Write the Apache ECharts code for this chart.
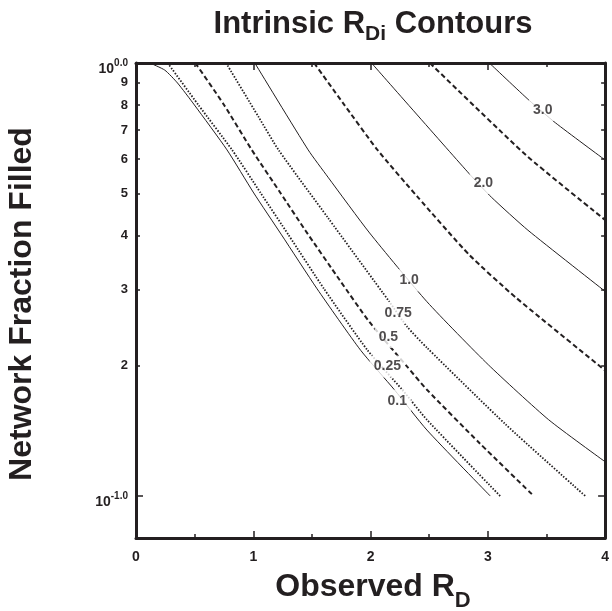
<!DOCTYPE html>
<html><head><meta charset="utf-8">
<script src="https://cdn.jsdelivr.net/npm/echarts@6/dist/echarts.min.js"></script>
<style>html,body{margin:0;padding:0;background:#fff}#c{width:612px;height:611px}</style>
</head><body><div id="c"></div>
<script>
// ---------- data ----------
const yTickFractions = [0.1, 0.2, 0.3, 0.4, 0.5, 0.6, 0.7, 0.8, 0.9, 1.0];
const yTickLabels = ['10^-1.0', '2', '3', '4', '5', '6', '7', '8', '9', '10^0.0'];
const yMajorFractions = [0.1, 1.0];
const yMin = 0.08, yMax = 1.0;

// contour RDi = 0.1 (solid)
const x010 = [0.118, 0.245, 0.354, 0.498, 0.776, 1.004, 1.241, 1.544, 1.916, 2.203, 2.481, 3.021];
const f010 = [1.0, 0.963, 0.899, 0.800, 0.630, 0.501, 0.401, 0.301, 0.217, 0.176, 0.142, 0.100];
// contour 0.25 (dotted)
const x025 = [0.270, 0.532, 0.819, 1.063, 1.300, 1.603, 1.975, 2.270, 2.481, 3.105];
const f025 = [1.0, 0.800, 0.630, 0.501, 0.401, 0.301, 0.217, 0.176, 0.150, 0.100];
// contour 0.5 (dashed)
const x050 = [0.506, 0.751, 0.987, 1.232, 1.443, 1.738, 1.992, 2.312, 2.481, 2.928, 3.392];
const f050 = [1.0, 0.800, 0.630, 0.501, 0.411, 0.315, 0.252, 0.199, 0.176, 0.1326, 0.100];
// contour 0.75 (dotted)
const x075 = [0.768, 1.046, 1.215, 1.637, 2.160, 2.312, 2.481, 3.156, 3.831];
const f075 = [1.0, 0.750, 0.630, 0.439, 0.281, 0.246, 0.220, 0.146, 0.100];
// contour 1.0 (solid)
const x100 = [1.013, 1.468, 1.637, 1.992, 2.481, 3.004, 3.519, 4.0];
const f100 = [1.0, 0.630, 0.545, 0.405, 0.281, 0.201, 0.150, 0.120];
// contour 1.5 (dashed)
const x150 = [1.519, 1.764, 2.059, 2.397, 2.844, 3.241, 4.0];
const f150 = [1.0, 0.809, 0.630, 0.492, 0.360, 0.287, 0.195];
// contour 2.0 (solid)
const x200 = [2.008, 2.844, 3.030, 3.342, 4.0];
const f200 = [1.0, 0.554, 0.490, 0.411, 0.297];
// contour 2.5 (dashed)
const x250 = [2.506, 3.325, 4.0];
const f250 = [1.0, 0.613, 0.434];
// contour 3.0 (solid)
const x300 = [3.013, 3.350, 3.578, 4.0];
const f300 = [1.0, 0.821, 0.727, 0.597];

// contour labels
const labelText = ['3.0', '2.0', '1.0', '0.75', '0.5', '0.25', '0.1'];
const labelX = [3.468, 2.962, 2.329, 2.236, 2.152, 2.143, 2.228];
const labelF = [0.779, 0.528, 0.315, 0.265, 0.233, 0.199, 0.166];

// ---------- rendering ----------
const FONT = "'Liberation Sans', Arial, Helvetica, sans-serif";
const INK = '#231f20';
const lg = v => Math.log10(v);

function lineStyleFor(kind) {
  if (kind === 'solid') return { color: INK, width: 1, type: 'solid' };
  if (kind === 'dashed') return { color: INK, width: 2, type: [5, 3] };
  return { color: INK, width: 1.8, type: [1.5, 1.6] };
}
function contour(name, xs, fs, kind) {
  return {
    type: 'line', name: name,
    data: xs.map((x, i) => [x, lg(fs[i])]),
    showSymbol: false, symbol: 'none', smooth: 0.2,
    lineStyle: lineStyleFor(kind), silent: true, z: 2, clip: true
  };
}
const series = [
  contour('0.1', x010, f010, 'solid'),
  contour('0.25', x025, f025, 'dotted'),
  contour('0.5', x050, f050, 'dashed'),
  contour('0.75', x075, f075, 'dotted'),
  contour('1.0', x100, f100, 'solid'),
  contour('1.5', x150, f150, 'dashed'),
  contour('2.0', x200, f200, 'solid'),
  contour('2.5', x250, f250, 'dashed'),
  contour('3.0', x300, f300, 'solid'),
  {
    type: 'scatter', z: 10, silent: true,
    data: labelX.map((x, i) => ({ value: [x, lg(labelF[i])], name: labelText[i] })),
    symbolSize: 1, itemStyle: { color: 'rgba(0,0,0,0)' },
    label: {
      show: true, position: 'inside', formatter: p => p.name,
      fontFamily: FONT, fontWeight: 'bold', fontSize: 14, color: INK,
      backgroundColor: '#fff', padding: [4, 4]
    }
  }
];

const axisLineStyle = { color: INK, width: 3 };
const tickStyle = { color: INK, width: 1.5 };
function xAx(pos, showLabel) {
  return {
    type: 'value', min: 0, max: 4, interval: 1, position: pos,
    axisLine: { show: true, onZero: false, lineStyle: axisLineStyle },
    axisTick: { show: true, inside: true, length: 7, lineStyle: tickStyle },
    minorTick: { show: true, splitNumber: 2, length: 4, lineStyle: tickStyle },
    axisLabel: { show: showLabel, margin: 12, fontSize: 14, fontWeight: 'bold', color: INK, fontFamily: FONT,
      showMinLabel: true, showMaxLabel: true },
    splitLine: { show: false }
  };
}
const minorVals = yTickFractions.filter(f => yMajorFractions.indexOf(f) < 0).map(lg);
const majorVals = yMajorFractions.map(lg);
function yAx(pos, vals, len, showLine, showLabel) {
  const ax = {
    type: 'value', min: lg(yMin), max: lg(yMax), position: pos,
    axisLine: { show: showLine, onZero: false, lineStyle: axisLineStyle },
    axisTick: { show: true, inside: true, length: len, customValues: vals, lineStyle: tickStyle },
    axisLabel: { show: false },
    splitLine: { show: false }
  };
  if (showLabel) {
    ax.axisLabel = {
      show: true, margin: 8, color: INK, fontFamily: FONT,
      showMinLabel: true, showMaxLabel: true, hideOverlap: false,
      customValues: yTickFractions.map(lg),
      formatter: v => {
        const i = yTickFractions.findIndex(f => Math.abs(lg(f) - v) < 1e-6);
        const t = i >= 0 ? yTickLabels[i] : '';
        if (t.indexOf('^') >= 0) {
          const parts = t.split('^');
          return '{b|' + parts[0] + '}{p|' + parts[1] + '}';
        }
        return '{m|' + t + '}';
      },
      rich: {
        b: { fontSize: 14, fontWeight: 'bold', fontFamily: FONT, color: INK, lineHeight: 27, verticalAlign: 'bottom' },
        p: { fontSize: 10, fontWeight: 'bold', fontFamily: FONT, color: INK, verticalAlign: 'middle' },
        m: { fontSize: 13, fontWeight: 'bold', fontFamily: FONT, color: INK }
      }
    };
  }
  return ax;
}

// text measurement for composed titles
const mctx = document.createElement('canvas').getContext('2d');
function tw(t, size) { mctx.font = 'bold ' + size + 'px ' + FONT; return mctx.measureText(t).width; }
function composed(parts, cx) {
  const total = parts.reduce((s, p) => s + tw(p.t, p.size), 0);
  let x = cx - total / 2;
  return parts.map(p => {
    const el = {
      type: 'text', x: x, y: p.y, silent: true,
      style: { text: p.t, font: 'bold ' + p.size + 'px ' + FONT, fill: INK, align: 'left', verticalAlign: 'middle' }
    };
    x += tw(p.t, p.size);
    return el;
  });
}
const plotCx = 373;
const graphics = [].concat(
  composed([{ t: 'Intrinsic R', size: 31, y: 24 }, { t: 'Di', size: 21, y: 34 }, { t: ' Contours', size: 31, y: 24 }], plotCx),
  composed([{ t: 'Observed R', size: 32, y: 587 }, { t: 'D', size: 22, y: 601 }], plotCx),
  [{
    type: 'text', x: 22, y: 304, rotation: Math.PI / 2, silent: true,
    style: { text: 'Network Fraction Filled', font: 'bold 32px ' + FONT, fill: INK, align: 'center', verticalAlign: 'middle' }
  }]
);

const chart = echarts.init(document.getElementById('c'), null, { renderer: 'canvas' });
chart.setOption({
  animation: false,
  backgroundColor: '#fff',
  grid: { left: 136, right: 2, top: 63, bottom: 73, containLabel: false },
  xAxis: [xAx('bottom', true), xAx('top', false)],
  yAxis: [
    yAx('left', minorVals, 4, true, true),
    yAx('left', majorVals, 7, false, false),
    yAx('right', minorVals, 4, true, false),
    yAx('right', majorVals, 7, false, false)
  ],
  graphic: graphics,
  series: series
});
</script>
</body></html>
